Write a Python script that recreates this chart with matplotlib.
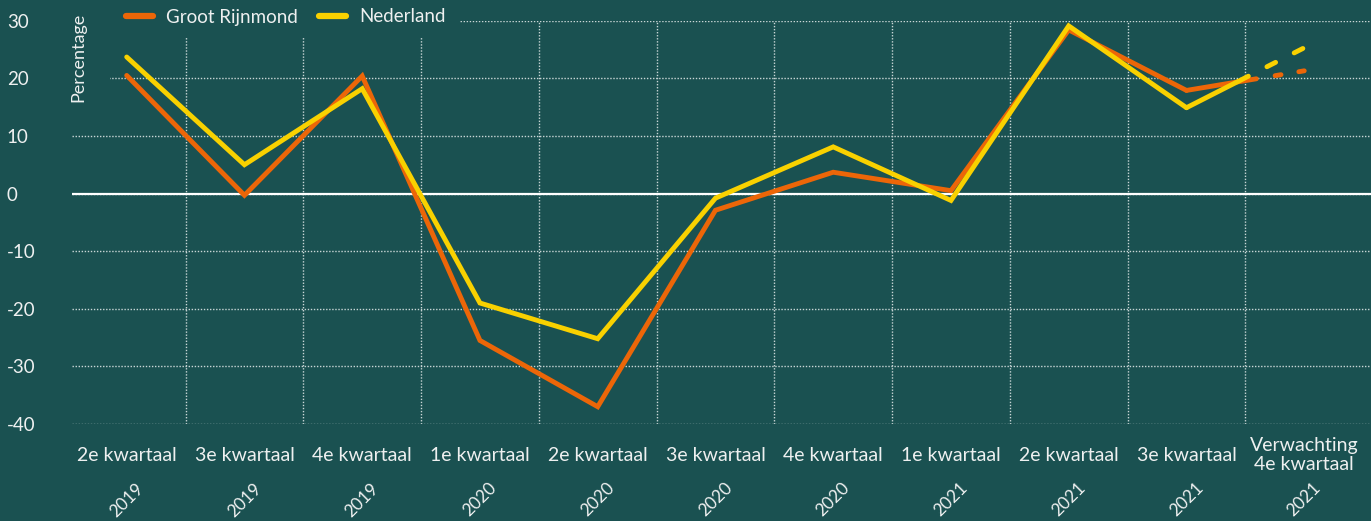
import matplotlib
matplotlib.use("Agg")
import matplotlib.pyplot as plt
import matplotlib.transforms as mtransforms
from matplotlib.lines import Line2D
from matplotlib.patches import Rectangle

plt.rcParams['font.family'] = ['Lato', 'DejaVu Sans']
plt.rcParams['lines.scale_dashes'] = False

# data
quarters = ["2e kwartaal", "3e kwartaal", "4e kwartaal", "1e kwartaal", "2e kwartaal",
            "3e kwartaal", "4e kwartaal", "1e kwartaal", "2e kwartaal", "3e kwartaal",
            "Verwachting\n4e kwartaal"]
years = ["2019", "2019", "2019", "2020", "2020", "2020", "2020", "2021", "2021", "2021", "2021"]
rijnmond = [20.5, -0.3, 20.4, -25.5, -37.0, -2.9, 3.7, 0.5, 28.4, 17.9, 21.3]
nederland = [23.7, 5.0, 18.2, -19.0, -25.2, -0.8, 8.1, -1.2, 29.1, 14.9, 25.3]
yticks = [30, 20, 10, 0, -10, -20, -30, -40]

BG = '#1a5151'
ORANGE = '#ec6608'
YELLOW = '#f9d100'
TXT = '#eef0f0'
GRID = '#c9d6d6'

W, H = 1371, 521
fig = plt.figure(figsize=(W / 100, H / 100), dpi=100, facecolor=BG)
left, right, top, bottom = 72, 1371, 20.7, 424
ax = fig.add_axes([left / W, 1 - bottom / H, (right - left) / W, (bottom - top) / H])
ax.set_facecolor(BG)
for s in ax.spines.values():
    s.set_visible(False)

x = list(range(len(quarters)))
ax.set_xlim(-0.4645, 10.567)
ax.set_ylim(-40, 30)

# grid
ax.set_yticks(yticks)
ax.set_yticklabels([str(t) for t in yticks], ha='left')
ax.tick_params(axis='y', length=0, pad=47, labelsize=13.5, labelcolor=TXT)
ax.set_xticks([i + 0.5 for i in x[:-1]], minor=True)
ax.set_xticks([])
ax.tick_params(axis='x', which='both', length=0)
ax.grid(axis='y', which='major', color=GRID, linestyle=(0, (1, 1.2)), linewidth=1)
ax.grid(axis='x', which='minor', color=GRID, linestyle=(0, (1, 1.2)), linewidth=1)
ax.set_axisbelow(True)
ax.axhline(0, color='white', linewidth=1.6, zorder=1.5)

# lines
lw = 3.5
ax.plot(x[:-1], rijnmond[:-1], color=ORANGE, lw=lw, solid_joinstyle='miter',
        solid_capstyle='round', zorder=3)
ax.plot(x[:-1], nederland[:-1], color=YELLOW, lw=lw, solid_joinstyle='miter',
        solid_capstyle='round', zorder=4)
ax.plot(x[-2:], rijnmond[-2:], color=ORANGE, lw=lw, dash_capstyle='round',
        dashes=[51, 13.7, 4.3, 13, 4.3, 20], zorder=3)
ax.plot(x[-2:], nederland[-2:], color=YELLOW, lw=lw, dash_capstyle='round',
        dashes=[50, 15, 7, 15, 7, 20], zorder=4)

# category labels and years
trans = mtransforms.blended_transform_factory(ax.transData, ax.transAxes)
for i, (q, yr) in enumerate(zip(quarters, years)):
    ax.text(i, -0.077, q, transform=trans, ha='center', va='center',
            fontsize=14, color=TXT, linespacing=1.1, clip_on=False)
    ax.text(i, -0.188, yr, transform=trans, ha='center', va='center',
            rotation=45, fontsize=12.5, color=TXT, clip_on=False)

# cover boxes behind legend and axis title
fig.patches.append(Rectangle((67 / W, 1 - 105 / H), 43 / W, 105 / H,
                             transform=fig.transFigure, facecolor=BG,
                             edgecolor='none', zorder=1))
fig.patches.append(Rectangle((110 / W, 1 - 38 / H), 350 / W, 38 / H,
                             transform=fig.transFigure, facecolor=BG,
                             edgecolor='none', zorder=1))

fig.text(78 / W, 1 - 13 / H, "Percentage", rotation=90, ha='center', va='top',
         fontsize=13, color=TXT, zorder=2)

handles = [Line2D([], [], color=ORANGE, lw=4.5, solid_capstyle='round'),
           Line2D([], [], color=YELLOW, lw=4.5, solid_capstyle='round')]
leg = fig.legend(handles, ["Groot Rijnmond", "Nederland"], loc='center left',
                 bbox_to_anchor=(126 / W, 1 - 17 / H), ncol=2, frameon=False,
                 fontsize=13.5, labelcolor=TXT, handlelength=1.45, handletextpad=0.7,
                 columnspacing=1.1, borderaxespad=0, borderpad=0)
leg.set_zorder(3)

fig.savefig("out.png", dpi=100, facecolor=BG)
